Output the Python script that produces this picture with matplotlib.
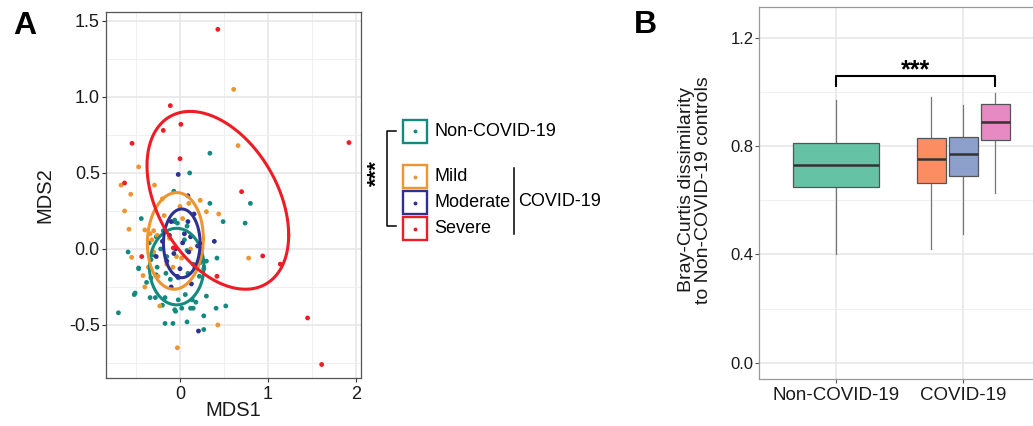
import numpy as np
import matplotlib
matplotlib.use("Agg")
import matplotlib.pyplot as plt
from matplotlib.patches import Rectangle

plt.rcParams['font.family'] = ['Liberation Sans', 'DejaVu Sans']

# ---------------- data: panel A (MDS ordination) ----------------
groups = ["Non-COVID-19", "Mild", "Moderate", "Severe"]
colors_A = ["#13897F", "#EE9530", "#2E3192", "#EE1C24"]

non_x = [0.34, 0.11, -0.07, 0.34, 0.80, 0.49, 0.74, -0.44, -0.06, -0.59, -0.47, -0.52, -0.70,
         0.42, 0.27, 0.27, 0.41, 0.52, 0.08, -0.17, -0.08, -0.05, 0.12, 0.18, 0.30,
         -0.47, -0.26, -0.33, -0.27, -0.16, -0.11, -0.02, 0.09, -0.51, -0.34, -0.28, -0.17,
         -0.02, 0.06, 0.14, -0.20, -0.06, 0.02, 0.15, -0.35, -0.30, -0.22, -0.15, 0.05,
         0.08, 0.15, 0.23, 0.30, 0.27, 0.22, -0.03, -0.06, -0.27, -0.19, 0.08, 0.23, -0.33, -0.38]
non_y = [0.63, 0.50, 0.38, 0.30, 0.30, 0.18, 0.17, 0.20, 0.18, -0.02, -0.13, -0.30, -0.42,
         -0.06, -0.44, -0.53, -0.39, -0.375, -0.48, -0.49, -0.49, -0.41, -0.39, -0.35, -0.31,
         -0.125, -0.12, -0.19, -0.17, -0.16, -0.20, -0.19, -0.16, -0.29, -0.32, -0.32, -0.32,
         -0.335, -0.30, -0.335, -0.37, -0.40, -0.39, -0.39, 0.04, -0.04, 0.00, -0.05, 0.06,
         -0.01, -0.10, -0.09, -0.08, -0.13, -0.18, 0.17, 0.19, 0.08, 0.12, 0.15, -0.03, -0.07, -0.22]

mild_x = [0.61, 0.66, -0.47, -0.67, -0.56, -0.29, -0.63, -0.20, 0.23, 0.30, 0.44, -0.58,
          -0.40, -0.34, -0.30, -0.26, -0.32, -0.55, -0.42, 0.78, -0.23, 0.43, -0.03, -0.12,
          -0.04, 0.02, -0.08, -0.30, -0.36, -0.25, 0.03, 0.10, -0.18, 0.12, -0.15, -0.40, 0.00]
mild_y = [1.05, 0.68, 0.54, 0.42, 0.36, 0.42, 0.25, 0.33, 0.32, 0.245, 0.23, 0.13,
          0.125, 0.10, 0.12, 0.09, 0.06, -0.055, -0.175, -0.06, -0.375, -0.50, -0.65, 0.07,
          -0.05, -0.06, -0.12, -0.02, -0.12, -0.18, 0.20, 0.30, 0.22, 0.00, -0.10, -0.25, 0.28]

mod_x = [-0.02, 0.09, 0.16, 0.39, 0.21, 0.09, -0.10, -0.20, -0.12, 0.05, 0.12, -0.05,
         0.10, -0.15, 0.00, 0.17, -0.07, 0.03, -0.27, 0.20, -0.03, 0.13, -0.10, 0.25]
mod_y = [0.49, 0.35, 0.23, 0.05, -0.54, 0.18, 0.18, 0.05, 0.09, 0.10, 0.08, 0.00,
         -0.02, -0.08, -0.13, -0.12, -0.03, 0.04, -0.05, 0.02, -0.18, -0.23, -0.25, -0.07]

sev_x = [0.43, -0.11, 0.01, -0.19, -0.545, 1.92, 0.00, -0.63, 0.70, -0.076, -0.435,
         0.94, 1.14, 0.42, 1.45, 1.61]
sev_y = [1.445, 0.943, 0.82, 0.78, 0.695, 0.70, 0.594, 0.434, 0.377, 0.007, -0.05,
         -0.046, -0.10, -0.18, -0.454, -0.76]

# ellipse summaries per group (center, spread in x, spread in y, correlation)
ell_cx = [-0.038, -0.053, 0.020, 0.43]
ell_cy = [-0.116, 0.053, 0.037, 0.32]
ell_sx = [0.31, 0.318, 0.208, 0.805]
ell_sy = [0.252, 0.318, 0.226, 0.585]
ell_r = [0.0, 0.05, 0.0, -0.39]

# ---------------- data: panel B (Bray-Curtis boxplots) ----------------
box_labels = ["Non-COVID-19", "Mild", "Moderate", "Severe"]
box_pos = [1.0, 1.75, 2.0, 2.25]
box_width = [0.675, 0.225, 0.225, 0.225]
box_whislo = [0.401, 0.421, 0.474, 0.628]
box_q1 = [0.649, 0.665, 0.688, 0.821]
box_med = [0.729, 0.752, 0.769, 0.889]
box_q3 = [0.812, 0.830, 0.834, 0.954]
box_whishi = [0.970, 0.980, 0.950, 0.994]
box_colors = ["#66C2A5", "#FC8D62", "#8DA0CB", "#E78AC3"]
xcat_labels = ["Non-COVID-19", "COVID-19"]
xcat_pos = [1, 2]

W, H = 1033, 426
fig = plt.figure(figsize=(W / 100, H / 100), dpi=100)


def px_axes(l, t, r, b):
    return fig.add_axes([l / W, 1 - b / H, (r - l) / W, (b - t) / H])


# ---------------- Panel A ----------------
axA = px_axes(106, 12, 361, 378)
axA.set_xlim(-0.841, 2.057)
axA.set_ylim(-0.849, 1.559)
axA.set_xticks([0, 1, 2])
axA.set_xticks([-0.5, 0.5, 1.5], minor=True)
axA.set_yticks([-0.5, 0.0, 0.5, 1.0, 1.5])
axA.set_yticks([-0.75, -0.25, 0.25, 0.75, 1.25], minor=True)
axA.set_xticklabels(["0", "1", "2"])
axA.set_yticklabels(["-0.5", "0.0", "0.5", "1.0", "1.5"])
axA.grid(True, which='major', color='#E6E6E6', lw=1.1, zorder=0)
axA.grid(True, which='minor', color='#F0F0F0', lw=0.7, zorder=0)
axA.tick_params(which='minor', length=0)
axA.tick_params(which='major', length=3, width=0.8, color='#333333', labelsize=13,
                labelcolor='#1a1a1a')
axA.tick_params(axis='y', pad=1.5)
axA.tick_params(axis='x', pad=3)
for s in axA.spines.values():
    s.set_color('#555555')
    s.set_linewidth(0.9)
axA.set_axisbelow(True)

xs = [non_x, mild_x, mod_x, sev_x]
ys = [non_y, mild_y, mod_y, sev_y]
for gx, gy, c in zip(xs, ys, colors_A):
    axA.scatter(gx, gy, s=12, color=c, edgecolors='none', zorder=3)

t = np.linspace(0, 2 * np.pi, 300)
for cx, cy, sx, sy, r, c in zip(ell_cx, ell_cy, ell_sx, ell_sy, ell_r, colors_A):
    ex = cx + sx * np.cos(t)
    ey = cy + sy * (r * np.cos(t) + np.sqrt(1 - r ** 2) * np.sin(t))
    axA.plot(ex, ey, color=c, lw=2.2, zorder=4)

# ---------------- Panel B ----------------
axB = px_axes(759, 7, 1040, 379)
axB.set_xlim(0.4, 2.6)
axB.set_ylim(-0.06, 1.313)
axB.set_yticks([0.0, 0.4, 0.8, 1.2])
axB.set_yticks([0.2, 0.6, 1.0], minor=True)
axB.set_yticklabels(["0.0", "0.4", "0.8", "1.2"])
axB.set_xticks(xcat_pos)
axB.set_xticklabels(xcat_labels)
axB.grid(True, which='major', color='#E6E6E6', lw=1.1, zorder=0)
axB.grid(True, which='minor', axis='y', color='#F0F0F0', lw=0.7, zorder=0)
axB.tick_params(which='minor', length=0)
axB.tick_params(which='major', length=3, width=0.8, color='#555555', labelcolor='#1a1a1a')
axB.tick_params(axis='y', labelsize=12, pad=1)
axB.tick_params(axis='x', labelsize=13.5, pad=3)
for s in axB.spines.values():
    s.set_color('#999999')
    s.set_linewidth(0.9)
axB.set_axisbelow(True)

stats = []
for i in range(len(box_labels)):
    stats.append(dict(label=box_labels[i], whislo=box_whislo[i], q1=box_q1[i], med=box_med[i],
                      q3=box_q3[i], whishi=box_whishi[i], fliers=[]))
for i, st in enumerate(stats):
    bp = axB.bxp([st], positions=[box_pos[i]], widths=[box_width[i]], patch_artist=True,
                 showfliers=False, showcaps=False, manage_ticks=False,
                 boxprops=dict(facecolor=box_colors[i], edgecolor='#555555', lw=0.9),
                 whiskerprops=dict(color='#777777', lw=0.9),
                 medianprops=dict(color='#333333', lw=1.8))
    for b in bp['boxes']:
        b.set_zorder(3)
    for m in bp['medians']:
        m.set_zorder(4)

# significance bracket in B
axB.plot([1.0, 1.0, 2.25, 2.25], [1.019, 1.058, 1.058, 1.019], color='black', lw=1.5,
         solid_capstyle='butt', zorder=5)
axB.text(1.625, 1.055, "***", ha='center', va='baseline', fontsize=18, fontweight='bold')

# ---------------- overlay (labels, legend) ----------------
ov = fig.add_axes([0, 0, 1, 1], zorder=10)
ov.set_xlim(0, W)
ov.set_ylim(H, 0)
ov.axis('off')
ov.patch.set_alpha(0)

ov.text(25, 26, "A", fontsize=23, fontweight='bold', ha='center', va='center')
ov.text(645, 25, "B", fontsize=23, fontweight='bold', ha='center', va='center')
ov.text(45, 195, "MDS2", fontsize=14.5, rotation=90, ha='center', va='center', color='#1a1a1a')
ov.text(233, 411, "MDS1", fontsize=14.5, ha='center', va='center', color='#1a1a1a')
ov.text(695, 190, "Bray-Curtis dissimilarity\nto Non-COVID-19 controls", fontsize=14,
        rotation=90, ha='center', va='center', multialignment='center', linespacing=1.05,
        color='#1a1a1a')

# legend keys
key_centers = [131, 176.5, 202.5, 228.5]
for yc, c, lab in zip(key_centers, colors_A, groups):
    ov.add_patch(Rectangle((403, yc - 11.5), 24, 23, fill=False, edgecolor=c, lw=1.7))
    ov.plot([415], [yc], marker='o', ms=2.8, color=c, mec='none')
    ov.text(434, yc, lab, fontsize=13, ha='left', va='center')

# bracket for *** in legend
ov.plot([396, 387, 387, 396], [131, 131, 226, 226], color='black', lw=1.1)
ov.text(377, 173, "***", rotation=90, fontsize=16, fontweight='bold', ha='center', va='center')
# COVID-19 group line
ov.plot([514, 514], [168, 234], color='black', lw=1.1)
ov.text(518, 202, "COVID-19", fontsize=13, ha='left', va='center')

fig.savefig("out.png", dpi=100)
